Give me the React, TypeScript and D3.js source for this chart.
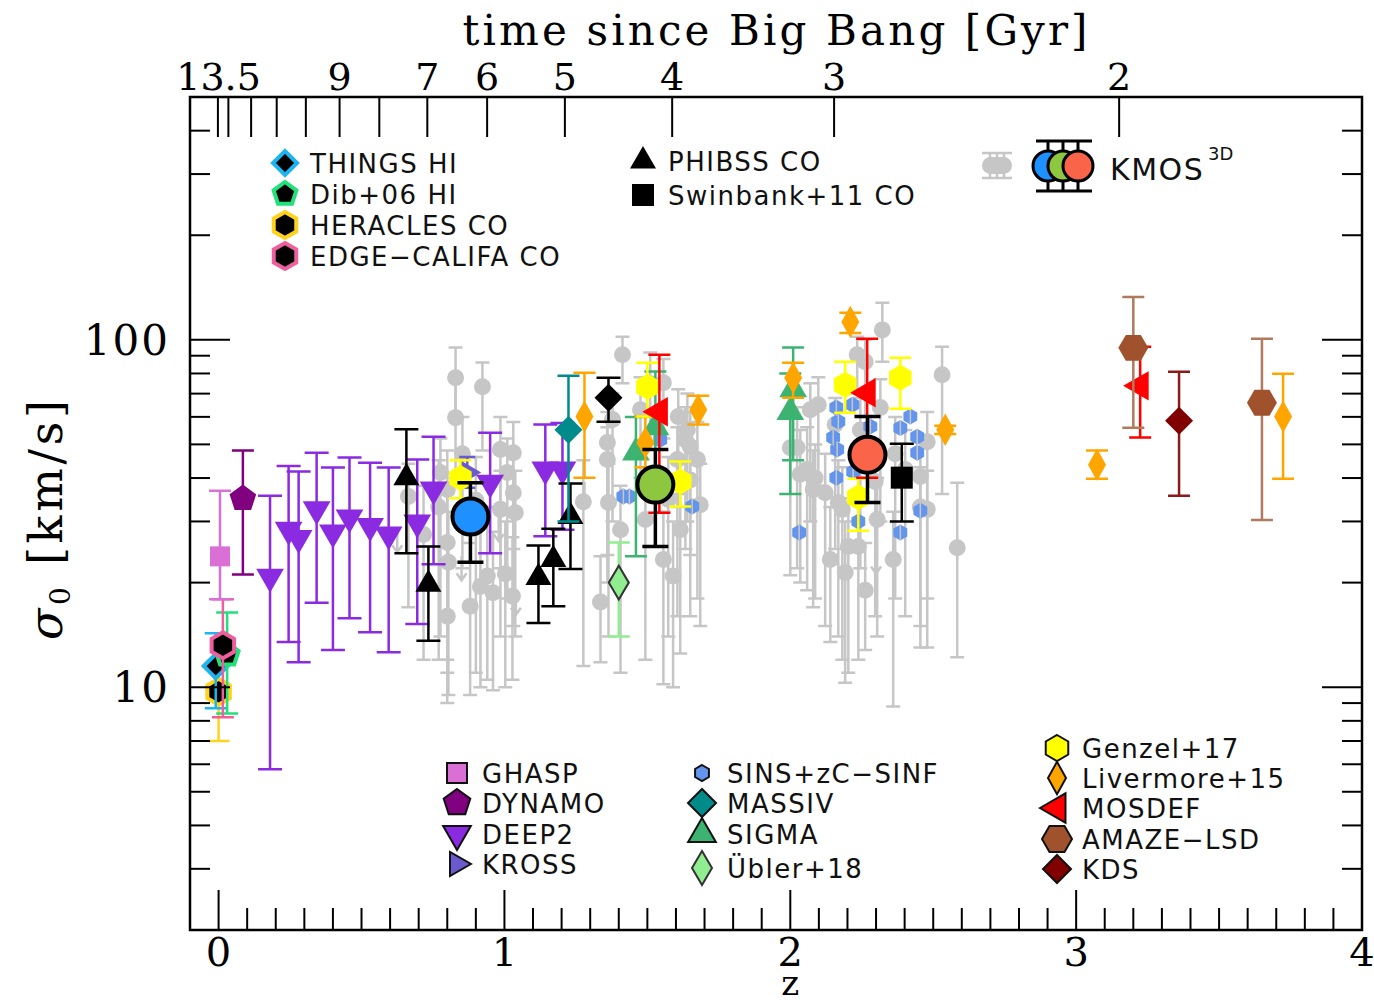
import * as d3 from 'd3';

type Row = [number, number, number, number]; // z, sigma0, lower, upper
type Pt = [number, number]; // z, sigma0

// ---------- data ----------
const GRAY_KMOS: Row[] = [
  [0.664, 35.4, 17, 44], [0.717, 27.5, 12, 38], [0.77, 33.0, 12, 45], [0.776, 41.5, 14, 52],
  [0.80, 37.1, 12, 48], [0.80, 26.1, 11, 36], [0.804, 22.9, 9.5, 32], [0.80, 16.0, 9, 23],
  [0.829, 77.8, 60, 95], [0.829, 59.7, 40, 78], [0.853, 47.0, 22, 60], [0.88, 17.1, 9.5, 26],
  [0.90, 34.5, 11, 46], [0.916, 19.5, 10, 30], [0.923, 73.3, 48, 86], [0.94, 20.9, 10.5, 33],
  [0.96, 18.7, 9.8, 28], [0.986, 48.3, 22, 60], [0.986, 32.5, 14, 42], [1.003, 21.2, 10, 30],
  [1.01, 41.5, 18, 52], [1.028, 18.3, 10.5, 27], [1.031, 47.3, 25, 58], [1.031, 36.3, 15, 46],
  [1.038, 31.8, 14, 42],
  [1.276, 34.2, 11.5, 45], [1.336, 17.6, 11.8, 23.8], [1.36, 50.6, 24, 62], [1.36, 45.2, 20, 56],
  [1.364, 34.0, 14, 44], [1.378, 59.0, 30, 70], [1.406, 28.4, 11, 38], [1.413, 90.6, 75, 102],
  [1.476, 62.9, 40, 78], [1.493, 30.4, 12, 40], [1.51, 74.7, 50, 92], [1.556, 75.2, 52, 88],
  [1.556, 23.3, 10.2, 32], [1.573, 34.7, 14, 46], [1.59, 20.9, 10, 30], [1.605, 45.2, 16, 56],
  [1.608, 60.1, 33, 72], [1.615, 28.4, 12.5, 36], [1.633, 51.6, 25, 64], [1.64, 55.1, 30, 70],
  [1.65, 49.3, 24, 62], [1.65, 39.5, 16, 50], [1.675, 45.2, 18, 58], [1.685, 33.5, 15, 44],
  [2.0, 48.9, 21, 62], [2.024, 49.0, 22, 64], [2.035, 41.0, 20, 55], [2.059, 42.3, 19, 56],
  [2.07, 62.9, 30, 75], [2.08, 37.1, 17, 48], [2.087, 40.0, 18, 50], [2.098, 65.0, 38, 78],
  [2.122, 36.3, 15, 47], [2.14, 23.3, 13.5, 33], [2.157, 57.0, 25, 68], [2.168, 34.0, 14, 45],
  [2.182, 32.5, 12, 43], [2.192, 21.4, 10.3, 30], [2.203, 25.4, 11, 35], [2.234, 90.6, 70, 102],
  [2.238, 25.4, 12, 34], [2.245, 55.0, 22, 68], [2.262, 86.4, 60, 100], [2.262, 19.0, 12.8, 26],
  [2.297, 39.1, 16, 50], [2.304, 30.4, 14, 40], [2.315, 63.8, 30, 77], [2.322, 106.8, 86.4, 127.8],
  [2.36, 23.3, 8.8, 32], [2.367, 47.0, 18, 60], [2.402, 42.3, 16, 55], [2.455, 40.4, 15, 52],
  [2.455, 33.0, 13, 43], [2.479, 50.9, 18, 62], [2.479, 32.5, 13, 42], [2.531, 79.3, 36, 95.5],
  [2.584, 25.2, 12.2, 38.8],
];
const GRAY_ULIM: Pt[] = [[0.625, 26.5], [0.85, 22], [0.98, 28.5], [1.04, 17.5], [1.28, 36], [2.30, 23]];

const KMOS_BINS: Row[] = [[0.881, 31.0, 22.9, 38.8], [1.528, 38.3, 25.4, 48.3], [2.27, 46.7, 34.0, 60.1]];
const KMOS_BIN_COLORS = ['#1e90ff', '#8dc63f', '#fa6448'];

const THINGS: Row[] = [[-0.01, 11.5, 8.7, 14.3]];
const DIB06: Row[] = [[0.03, 12.4, 8.4, 16.4]];
const HERACLES: Row[] = [[0.0, 9.7, 7.0, 11.8]];
const EDGE: Row[] = [[0.015, 13.2, 8.2, 17.9]];
const GHASP: Row[] = [[0.005, 23.8, 17.9, 36.8]];
const DYNAMO: Row[] = [[0.085, 34.9, 21.1, 48.0]];
const DEEP2: Row[] = [
  [0.18, 20.8, 5.8, 35.6], [0.245, 28.4, 13.5, 43.3], [0.28, 26.9, 11.8, 41.8], [0.343, 32.5, 17.5, 47.3],
  [0.40, 27.9, 12.8, 42.9], [0.458, 30.8, 15.8, 45.8], [0.53, 29.1, 14.4, 44.3], [0.595, 27.5, 12.6, 42.9],
  [0.695, 29.8, 15.2, 45.2], [0.752, 37.1, 22.6, 52.6], [0.95, 38.8, 24.3, 54.0], [1.143, 42.3, 27.2, 57.0],
  [1.203, 42.3, 28.4, 57.6],
];
const KROSS: Row[] = [[0.87, 41.5, 37.5, 46]];
const PHIBSS: Row[] = [
  [0.657, 40.1, 24.3, 55.3], [0.734, 19.8, 13.6, 25.4], [1.119, 20.7, 15.3, 25.6],
  [1.171, 23.3, 17.1, 28.6], [1.231, 31.0, 21.9, 38.6],
];
const SWINBANK11: Row[] = [[2.39, 40.1, 30.0, 50.2]];
const OTHER_BLACK: Row[] = [[1.364, 68.1, 58.1, 77.8]];
const MASSIV: Row[] = [[1.224, 55.1, 30.0, 78.8]];
const SIGMA: Row[] = [[2.01, 72, 45, 95], [2.0, 62, 36, 80], [1.528, 56, 35, 81], [1.46, 47.4, 23.8, 60]];
const UBLER18: Row[] = [[1.40, 20.0, 14.0, 26.1]];
const SINS: Pt[] = [
  [2.031, 27.9], [2.161, 63.8], [2.168, 58.2], [2.15, 52.3], [2.164, 48.3], [2.161, 40.1], [2.217, 65.0],
  [2.22, 41.7], [2.238, 30.0], [2.28, 56.3], [2.385, 55.7], [2.42, 60.1], [2.444, 52.6], [2.444, 47.3],
  [2.455, 32.2], [2.385, 27.9], [1.416, 35.4], [1.437, 35.4], [1.657, 33.1], [1.545, 51.6],
];
const GENZEL17: Row[] = [
  [0.846, 40.0, 35.0, 45.0], [1.50, 73.3, 60.1, 85.9], [1.615, 39.1, 33.1, 44.6],
  [2.192, 74.2, 61.7, 86.4], [2.385, 77.8, 63.3, 88.8], [2.238, 35.2, 28.2, 39.8],
];
const LIVERMORE15: Row[] = [
  [1.28, 60.1, 40.1, 80.4], [1.493, 50.6, 43, 60.1], [1.678, 62.9, 57.0, 69.0], [2.21, 112.6, 104.7, 119.6],
  [2.01, 77.8, 68.1, 85.9], [2.542, 55.1, 53.6, 56.6], [3.073, 43.7, 39.8, 48.0], [3.724, 60.1, 39.8, 79.8],
];
const MOSDEF: Row[] = [[1.542, 62.1, 31.8, 90.5], [2.269, 70.4, 40.1, 100.7], [3.224, 73.7, 52.3, 95.5]];
const AMAZE: Row[] = [[3.2, 94.8, 55.8, 132.9], [3.65, 65.9, 30.3, 100.7]];
const KDS: Row[] = [[3.36, 58.5, 35.6, 80.9]];

const Z_LABELS = [0, 1, 2, 3, 4];
const AGE_TICKS = [13.5, 13, 12, 11, 10, 9, 8, 7, 6, 5, 4, 3, 2];
const AGE_LABELS = [13.5, 9, 7, 6, 5, 4, 3, 2];

// ---------- layout ----------
const W = 1374, H = 1005;
const M = { left: 190, right: 1362, top: 97, bottom: 930 };
const x = d3.scaleLinear().domain([-0.1, 4]).range([M.left, M.right]);
const y = d3.scaleLog().domain([2, 500]).range([M.bottom, M.top]);

// flat LCDM (H0=70, Om=0.3) age -> redshift, for the top axis
const OM = 0.3, OL = 0.7, tH = 977.8 / 70;
const A = (2 / (3 * Math.sqrt(OL))) * tH;
const ageToZ = (t: number) => Math.pow(Math.sinh(t / A) / Math.sqrt(OL / OM), -2 / 3) - 1;

const SERIF = "'DejaVu Serif', serif";
const SANS = "'DejaVu Sans', sans-serif";

type Shape = 'circle' | 'square' | 'diamond' | 'hex' | 'hexFlat' | 'pent' | 'triUp' | 'triDown' | 'triLeft' | 'triRight';
interface Sty { shape: Shape; r: number; sy?: number; fill: string; stroke?: string; sw?: number; err: string; cap: number }

const poly = (n: number, rx: number, ry: number, rot: number) =>
  'M' + d3.range(n).map(i => {
    const a = rot + (i * 2 * Math.PI) / n;
    return `${(rx * Math.cos(a)).toFixed(2)},${(ry * Math.sin(a)).toFixed(2)}`;
  }).join('L') + 'Z';

function markerPath(shape: Shape, r: number, sy = 1) {
  switch (shape) {
    case 'circle': return poly(48, r, r * sy, 0);
    case 'square': return `M${-r},${-r}h${2 * r}v${2 * r}h${-2 * r}Z`;
    case 'diamond': return poly(4, r, r * sy, 0);
    case 'hex': return poly(6, r, r * sy, -Math.PI / 2);
    case 'hexFlat': return poly(6, r, r * sy, 0);
    case 'pent': return poly(5, r, r * sy, -Math.PI / 2);
    case 'triUp': return poly(3, r, r, -Math.PI / 2);
    case 'triDown': return poly(3, r, r, Math.PI / 2);
    case 'triLeft': return poly(3, r, r, Math.PI);
    case 'triRight': return poly(3, r, r, 0);
  }
}

const STY: Record<string, Sty> = {
  gray: { shape: 'circle', r: 8.5, fill: '#c6c6c6', err: '#c6c6c6', cap: 14 },
  sins: { shape: 'hex', r: 8, fill: '#6495ed', err: '#6495ed', cap: 0 },
  things: { shape: 'diamond', r: 12, fill: '#000', stroke: '#1eb4f0', sw: 4, err: '#1eb4f0', cap: 22 },
  dib: { shape: 'pent', r: 12, fill: '#000', stroke: '#22e07a', sw: 4, err: '#22e07a', cap: 22 },
  heracles: { shape: 'hex', r: 13, fill: '#000', stroke: '#ffd21e', sw: 4, err: '#ffd21e', cap: 22 },
  edge: { shape: 'hex', r: 13, fill: '#000', stroke: '#ee5f9e', sw: 4, err: '#ee5f9e', cap: 22 },
  ghasp: { shape: 'square', r: 10, fill: '#da70d6', err: '#da70d6', cap: 22 },
  dynamo: { shape: 'pent', r: 14, fill: '#800080', err: '#800080', cap: 22 },
  deep2: { shape: 'triDown', r: 16, fill: '#8a2be2', err: '#8a2be2', cap: 24 },
  kross: { shape: 'triRight', r: 14, fill: '#6a5acd', err: '#6a5acd', cap: 16 },
  phibss: { shape: 'triUp', r: 15, fill: '#000', err: '#000', cap: 24 },
  swinbank: { shape: 'square', r: 11, fill: '#000', err: '#000', cap: 24 },
  other: { shape: 'diamond', r: 14, fill: '#000', err: '#000', cap: 24 },
  massiv: { shape: 'diamond', r: 14, fill: '#008b8b', err: '#008b8b', cap: 22 },
  sigma: { shape: 'triUp', r: 16, fill: '#3cb371', err: '#3cb371', cap: 22 },
  ubler: { shape: 'diamond', r: 10, sy: 1.7, fill: '#90ee90', stroke: '#333', sw: 2, err: '#90ee90', cap: 22 },
  genzel: { shape: 'hex', r: 13, fill: '#ffff00', err: '#ffff00', cap: 22 },
  livermore: { shape: 'diamond', r: 9, sy: 1.8, fill: '#ffa500', err: '#ffa500', cap: 22 },
  mosdef: { shape: 'triLeft', r: 17, fill: '#ff0000', err: '#ff0000', cap: 22 },
  amaze: { shape: 'hexFlat', r: 15, fill: '#a0522d', err: '#b07a5e', cap: 22 },
  kds: { shape: 'diamond', r: 14, fill: '#800000', err: '#8b1a1a', cap: 22 },
};

const SERIES: [Row[], string][] = [
  [HERACLES, 'heracles'], [THINGS, 'things'], [DIB06, 'dib'], [EDGE, 'edge'], [GHASP, 'ghasp'],
  [DYNAMO, 'dynamo'], [DEEP2, 'deep2'], [KROSS, 'kross'], [PHIBSS, 'phibss'], [MASSIV, 'massiv'],
  [OTHER_BLACK, 'other'], [UBLER18, 'ubler'], [SIGMA, 'sigma'], [LIVERMORE15, 'livermore'],
  [GENZEL17, 'genzel'], [MOSDEF, 'mosdef'], [SWINBANK11, 'swinbank'], [AMAZE, 'amaze'], [KDS, 'kds'],
];

const LEGENDS: { x: number; rows: [string, string, number][] }[] = [
  { x: 285, rows: [['things', 'THINGS HI', 163], ['dib', 'Dib+06 HI', 194], ['heracles', 'HERACLES CO', 225], ['edge', 'EDGE−CALIFA CO', 256]] },
  { x: 643, rows: [['phibss', 'PHIBSS CO', 161], ['swinbank', 'Swinbank+11 CO', 195]] },
  { x: 457, rows: [['ghasp', 'GHASP', 773], ['dynamo', 'DYNAMO', 803], ['deep2', 'DEEP2', 834], ['kross', 'KROSS', 864]] },
  { x: 702, rows: [['sins', 'SINS+zC−SINF', 773], ['massiv', 'MASSIV', 803], ['sigma', 'SIGMA', 834], ['ubler', 'Übler+18', 868]] },
  { x: 1057, rows: [['genzel', 'Genzel+17', 748], ['livermore', 'Livermore+15', 778], ['mosdef', 'MOSDEF', 808], ['amaze', 'AMAZE−LSD', 839], ['kds', 'KDS', 869]] },
];
const LEGEND_OUTLINED = new Set(['ghasp', 'dynamo', 'deep2', 'kross', 'sins', 'massiv', 'sigma', 'ubler', 'genzel', 'livermore', 'mosdef', 'amaze', 'kds']);

const errPath = (d: Row, cap: number) => {
  const cx = x(d[0]), y0 = y(d[2]), y1 = y(d[3]), h = cap / 2;
  return `M${cx},${y0}V${y1}` + (cap ? `M${cx - h},${y0}h${cap}M${cx - h},${y1}h${cap}` : '');
};

const Series = ({ rows, st }: { rows: Row[]; st: Sty }) => (
  <g>
    <g stroke={st.err} strokeWidth={2.5} fill="none">
      {rows.map((d, i) => <path key={i} d={errPath(d, st.cap)} />)}
    </g>
    {rows.map((d, i) => (
      <path key={i} transform={`translate(${x(d[0])},${y(d[1])})`} d={markerPath(st.shape, st.r, st.sy)}
        fill={st.fill} stroke={st.stroke || 'none'} strokeWidth={st.sw || 0} />
    ))}
  </g>
);

export default function App() {
  const zMinor = d3.range(0, 40).map(i => i / 10).filter(v => Math.abs(v - Math.round(v)) > 1e-6);
  const yTicks = y.ticks().filter(v => v > 2 && v < 500);
  const isMajor = (v: number) => Math.abs(Math.log10(v) - Math.round(Math.log10(v))) < 1e-6;

  return (
    <svg width={W} height={H} style={{ position: 'absolute', left: 0, top: 0, background: '#fff' }}>
      <rect width={W} height={H} fill="#fff" />

      {/* gray KMOS3D individual galaxies */}
      <g stroke={STY.gray.err} strokeWidth={2.5} fill="none">
        {GRAY_KMOS.map((d, i) => <path key={i} d={errPath(d, STY.gray.cap)} />)}
        {GRAY_ULIM.map((d, i) => {
          const cx = x(d[0]), cy = y(d[1]);
          return <path key={'u' + i} d={`M${cx},${cy - 12}V${cy + 12}M${cx - 5},${cy + 5}L${cx},${cy + 12}L${cx + 5},${cy + 5}`} />;
        })}
      </g>
      {GRAY_KMOS.map((d, i) => <circle key={i} cx={x(d[0])} cy={y(d[1])} r={STY.gray.r} fill={STY.gray.fill} />)}

      {/* SINS/zC-SINF */}
      {SINS.map((d, i) => (
        <path key={i} transform={`translate(${x(d[0])},${y(d[1])})`} d={markerPath('hex', STY.sins.r)} fill={STY.sins.fill} />
      ))}
      <g stroke="#c6c6c6" strokeWidth={1.5}>
        {SINS.map((d, i) => <path key={i} d={`M${x(d[0])},${y(d[1]) - 8}v16`} />)}
      </g>

      {SERIES.map(([rows, key]) => <Series key={key} rows={rows} st={STY[key]} />)}

      {/* KMOS3D binned medians */}
      <g stroke="#000" strokeWidth={3.5} fill="none">
        {KMOS_BINS.map((d, i) => <path key={i} d={errPath(d, 26)} />)}
      </g>
      {KMOS_BINS.map((d, i) => (
        <circle key={i} cx={x(d[0])} cy={y(d[1])} r={18} fill={KMOS_BIN_COLORS[i]} stroke="#000" strokeWidth={4} />
      ))}

      {/* frame */}
      <rect x={M.left} y={M.top} width={M.right - M.left} height={M.bottom - M.top} fill="none" stroke="#000" strokeWidth={2.5} />

      {/* bottom z axis */}
      <g stroke="#000" strokeWidth={2}>
        {zMinor.map(v => <line key={v} x1={x(v)} x2={x(v)} y1={M.bottom} y2={M.bottom - 22} />)}
        {Z_LABELS.filter(v => v < 4).map(v => <line key={v} x1={x(v)} x2={x(v)} y1={M.bottom} y2={M.bottom - 40} />)}
      </g>
      <g fontFamily={SERIF} fontSize={40} textAnchor="middle" fill="#000">
        {Z_LABELS.map(v => <text key={v} x={x(v)} y={966}>{v}</text>)}
        <text x={x(2)} y={995} fontSize={34}>z</text>
      </g>

      {/* top time axis */}
      <g stroke="#000" strokeWidth={2}>
        {AGE_TICKS.map(t => <line key={t} x1={x(ageToZ(t))} x2={x(ageToZ(t))} y1={M.top} y2={M.top + 40} />)}
      </g>
      <g fontFamily={SERIF} fontSize={38} textAnchor="middle" fill="#000">
        {AGE_LABELS.map(t => <text key={t} x={x(Math.max(0, ageToZ(t)))} y={90}>{t}</text>)}
        <text x={775} y={45} fontSize={42} textLength={625} lengthAdjust="spacing">time since Big Bang [Gyr]</text>
      </g>

      {/* y axis, left and right */}
      <g stroke="#000" strokeWidth={2}>
        {yTicks.map(v => {
          const L = isMajor(v) ? 40 : 20;
          return (
            <g key={v}>
              <line x1={M.left} x2={M.left + L} y1={y(v)} y2={y(v)} />
              <line x1={M.right} x2={M.right - L} y1={y(v)} y2={y(v)} />
            </g>
          );
        })}
      </g>
      <g fontFamily={SERIF} fontSize={42} textAnchor="end" fill="#000">
        {yTicks.filter(isMajor).map(v => <text key={v} x={170} y={y(v) + 15} letterSpacing={2}>{v}</text>)}
      </g>
      <text transform="translate(62,520) rotate(-90)" fontFamily={SERIF} fontSize={46} textAnchor="middle" fill="#000"
        textLength={240} lengthAdjust="spacing">
        <tspan fontStyle="italic">σ</tspan><tspan fontSize={28} dy={8}>0</tspan><tspan dy={-8}> [km/s]</tspan>
      </text>

      {/* legends */}
      {LEGENDS.map((col, ci) => (
        <g key={ci}>
          {col.rows.map(([key, label, ly]) => {
            const st = STY[key];
            const outlined = LEGEND_OUTLINED.has(key);
            return (
              <g key={key}>
                <path transform={`translate(${col.x},${ly})`}
                  d={markerPath(st.shape, st.r, st.sy)}
                  fill={st.fill} stroke={st.stroke || (outlined ? '#111' : 'none')}
                  strokeWidth={st.stroke ? st.sw : outlined ? 2 : 0} />
                <text x={col.x + 25} y={ly + 10} fontFamily={SANS} fontSize={26} letterSpacing={1.5} fill="#111">{label}</text>
              </g>
            );
          })}
        </g>
      ))}

      {/* KMOS3D legend */}
      <g>
        <g stroke="#c6c6c6" strokeWidth={2.5}>
          <path d="M982,153h30M982,178h30M990,153v25M997,153v25M1004,153v25" />
        </g>
        <rect x={982} y={157} width={30} height={17} rx={8.5} fill="#c6c6c6" />
        <g stroke="#000" strokeWidth={3}>
          <path d="M1036,141h56M1036,191h56M1048,141v50M1063,141v50M1078,141v50" />
        </g>
        {KMOS_BIN_COLORS.map((c, i) => (
          <circle key={c} cx={1048 + 15 * i} cy={166} r={15} fill={c} stroke="#000" strokeWidth={3} />
        ))}
        <text x={1110} y={180} fontFamily={SANS} fontSize={30} letterSpacing={1.5} fill="#111">KMOS</text>
        <text x={1208} y={160} fontFamily={SANS} fontSize={18} fill="#111">3D</text>
      </g>
    </svg>
  );
}
